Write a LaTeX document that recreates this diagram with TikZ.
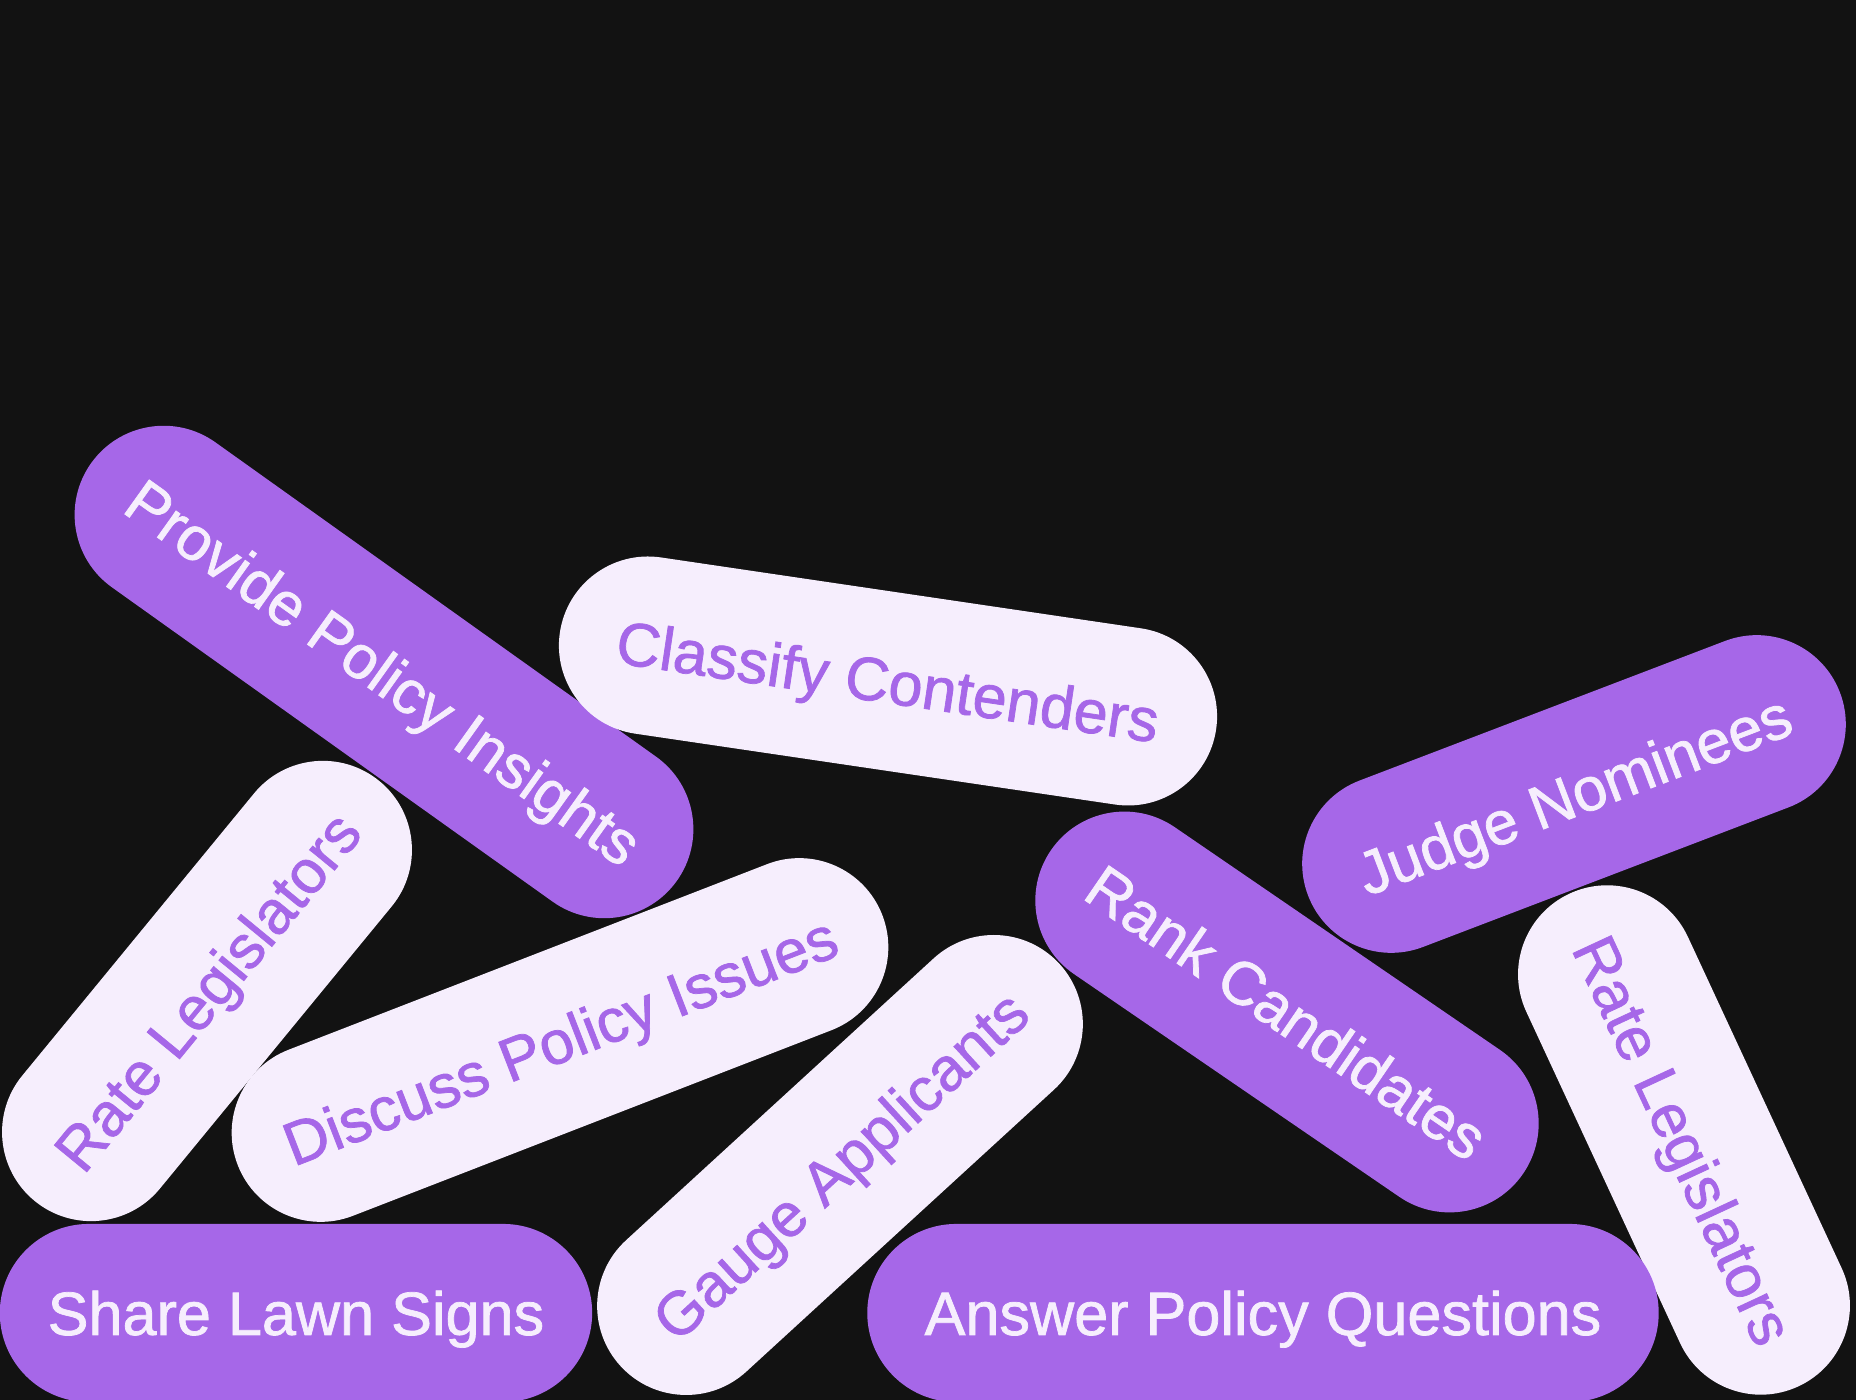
\documentclass[tikz,border=0pt]{standalone}
\usepackage{fontspec}
\usepackage{tikz}
\newfontfamily\pillfont{Liberation Sans}[FakeBold=1.2]
\definecolor{bgdark}{HTML}{121212}
\definecolor{pillpurple}{HTML}{A667E8}
\definecolor{pilllight}{HTML}{F6EEFD}
\tikzset{
    every node/.style={rectangle, rounded corners=0.89cm, minimum height=1.78cm,
    	inner sep=0pt, text height=12.5pt, text depth=0pt,
    	font=\pillfont\fontsize{17.4pt}{20pt}\selectfont}
}
\tikzset{dark/.style={fill=pillpurple, text=pilllight}}
\tikzset{light/.style={fill=pilllight, text=pillpurple}}

\begin{document}
\begin{tikzpicture}[x=0.01cm, y=0.01cm]
  \fill[bgdark] (0,0) rectangle (1856,1400);
  \useasboundingbox (0,0) rectangle (1856,1400);

  \node (insights) [dark, minimum width=7.19cm, rotate=-35.5] at (384,728) {Provide Policy Insights};
  \node (classify) [light, minimum width=6.63cm, rotate=-8.4] at (888,719) {Classify Contenders};
  \node (judge) [dark, minimum width=5.69cm, rotate=20.9] at (1574,606) {Judge Nominees};
  \node (rate_l) [light, minimum width=5.43cm, rotate=50.6] at (207,409) {Rate Legislators};
  \node (discuss) [light, minimum width=6.91cm, rotate=21.2] at (560,360) {Discuss Policy Issues};
  \node (gauge) [light, minimum width=5.95cm, rotate=42.5] at (840,235) {Gauge Applicants};
  \node (rank) [dark, minimum width=5.72cm, rotate=-34.4] at (1287,388) {Rank Candidates};
  \node (rate_r) [light, minimum width=5.43cm, rotate=-65.1] at (1684,260) {Rate Legislators};
  \node (share) [dark, minimum width=5.92cm] at (296,87) {Share Lawn Signs};
  \node (answer) [dark, minimum width=7.91cm] at (1263,87) {Answer Policy Questions};
\end{tikzpicture}
\end{document}
